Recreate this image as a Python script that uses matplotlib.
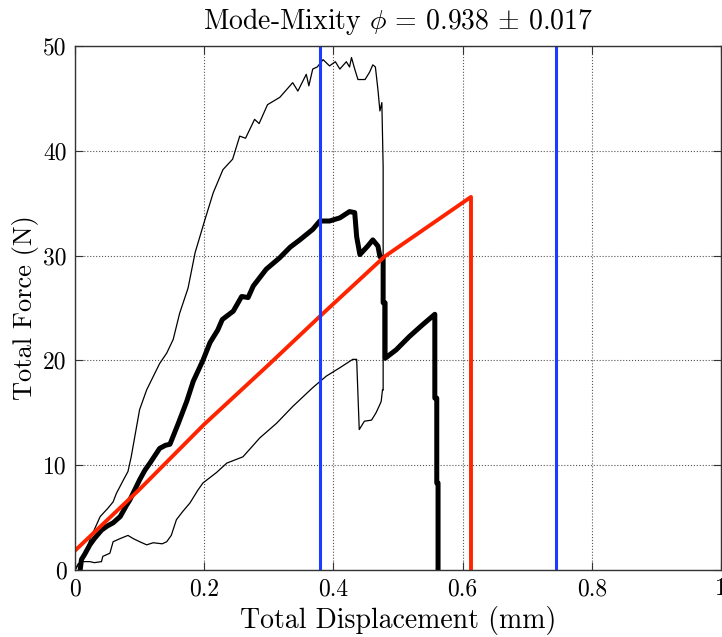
import numpy as np
import matplotlib
matplotlib.use('Agg')
import matplotlib.pyplot as plt

plt.rcParams['font.family'] = 'cmr10'
plt.rcParams['mathtext.fontset'] = 'cm'
plt.rcParams['axes.unicode_minus'] = False

# Mean curve (thick black)
mean_x = [0.008, 0.010, 0.015, 0.023, 0.030, 0.041, 0.050, 0.059, 0.070, 0.080, 0.085,
          0.100, 0.108, 0.116, 0.131, 0.140, 0.147, 0.160, 0.173, 0.183, 0.198, 0.209,
          0.221, 0.228, 0.245, 0.258, 0.268, 0.276, 0.296, 0.317, 0.333, 0.348, 0.368,
          0.379, 0.394, 0.410, 0.425, 0.433, 0.436, 0.441, 0.453, 0.461, 0.469, 0.472,
          0.477, 0.477, 0.480, 0.480, 0.497, 0.518, 0.538, 0.557, 0.557, 0.560, 0.560,
          0.562, 0.562]
mean_y = [0.0, 1.0, 1.5, 2.4, 3.0, 3.8, 4.2, 4.5, 5.1, 6.2, 6.7,
          8.6, 9.5, 10.2, 11.6, 11.9, 12.0, 14.0, 16.1, 18.0, 20.0, 21.7,
          22.9, 23.9, 24.7, 26.1, 26.0, 27.1, 28.7, 29.8, 30.8, 31.5, 32.5,
          33.3, 33.3, 33.6, 34.2, 34.1, 31.8, 30.1, 30.9, 31.5, 30.9, 29.9,
          29.8, 25.5, 25.5, 20.2, 21.0, 22.3, 23.4, 24.4, 16.4, 16.4, 8.3,
          8.3, 0.0]

# Upper envelope (thin)
upper_x = [0.0, 0.008, 0.015, 0.023, 0.039, 0.051, 0.059, 0.064, 0.075, 0.082, 0.087,
           0.100, 0.111, 0.131, 0.142, 0.152, 0.162, 0.175, 0.186, 0.201, 0.214, 0.229,
           0.244, 0.255, 0.264, 0.278, 0.285, 0.298, 0.317, 0.337, 0.345, 0.358, 0.362,
           0.368, 0.375, 0.384, 0.394, 0.403, 0.410, 0.420, 0.425, 0.428, 0.433, 0.438,
           0.449, 0.456, 0.461, 0.465, 0.469, 0.472, 0.475, 0.477, 0.477]
upper_y = [0.0, 0.8, 1.4, 2.9, 5.1, 5.9, 6.5, 7.3, 8.6, 9.4, 10.8,
           15.3, 17.2, 19.7, 20.7, 22.0, 24.5, 26.9, 30.3, 33.4, 36.0, 38.2,
           39.2, 41.4, 41.2, 43.0, 42.6, 44.4, 45.1, 46.5, 45.7, 47.3, 46.2,
           47.8, 48.0, 48.7, 48.1, 48.5, 47.8, 48.5, 48.0, 48.9, 47.8, 46.8,
           46.8, 47.5, 48.2, 48.0, 45.8, 43.8, 44.6, 38.5, 17.2]

# Lower envelope (thin)
lower_x = [0.0, 0.005, 0.013, 0.023, 0.030, 0.041, 0.043, 0.054, 0.059, 0.070, 0.082,
           0.090, 0.100, 0.111, 0.121, 0.135, 0.142, 0.149, 0.157, 0.167, 0.178, 0.190,
           0.198, 0.219, 0.235, 0.260, 0.286, 0.312, 0.337, 0.368, 0.389, 0.410, 0.430,
           0.436, 0.440, 0.448, 0.459, 0.466, 0.472, 0.474, 0.476, 0.477]
lower_y = [0.0, 0.6, 0.8, 0.8, 0.7, 0.8, 1.3, 1.6, 2.7, 3.0, 3.3,
           3.0, 2.7, 2.4, 2.6, 2.5, 2.7, 3.3, 4.8, 5.6, 6.4, 7.6,
           8.3, 9.3, 10.2, 10.8, 12.6, 14.0, 15.6, 17.4, 18.5, 19.3, 20.1,
           20.1, 13.4, 14.2, 14.3, 15.0, 15.8, 16.1, 17.2, 17.2]

# Model prediction (red)
model_x = [0.0, 0.1, 0.2, 0.3, 0.379, 0.479, 0.613, 0.613]
model_y = [1.85, 7.7, 13.9, 19.6, 24.2, 29.9, 35.6, 0.0]

# Vertical markers (blue)
marker_x = [0.379, 0.745]

fig = plt.figure(figsize=(7.22, 6.37), dpi=100)
ax = fig.add_axes([75 / 722, 1 - 570 / 637, 646 / 722, 524 / 637])

ax.plot(upper_x, upper_y, color='black', lw=0.9)
ax.plot(lower_x, lower_y, color='black', lw=0.9)
ax.plot(mean_x, mean_y, color='black', lw=3.6, solid_joinstyle='round')
ax.plot(model_x, model_y, color='#ff2400', lw=2.8)
for xv in marker_x:
    ax.axvline(xv, color='#1a3cff', lw=2.2)

ax.set_xlim(0, 1)
ax.set_ylim(0, 50)
ax.set_xticks([0, 0.2, 0.4, 0.6, 0.8, 1])
ax.set_xticklabels(['0', '0.2', '0.4', '0.6', '0.8', '1'])
ax.set_yticks([0, 10, 20, 30, 40, 50])
ax.set_yticklabels(['0', '10', '20', '30', '40', '50'])
ax.tick_params(direction='in', length=6, width=0.8, top=True, right=True,
               labelsize=17, pad=6, colors='#333333', labelcolor='black')
ax.grid(True, linestyle=':', color='#555555', lw=0.8)
for s in ax.spines.values():
    s.set_color('#333333')
    s.set_linewidth(1.0)

ax.set_xlabel('Total Displacement (mm)', fontsize=20, labelpad=4)
ax.set_ylabel('Total Force (N)', fontsize=19, labelpad=3)
ax.set_title(r'Mode-Mixity $\phi\, =\, 0.938\, \pm\, 0.017$', fontsize=20, pad=12)

fig.savefig('out.png', dpi=100)
